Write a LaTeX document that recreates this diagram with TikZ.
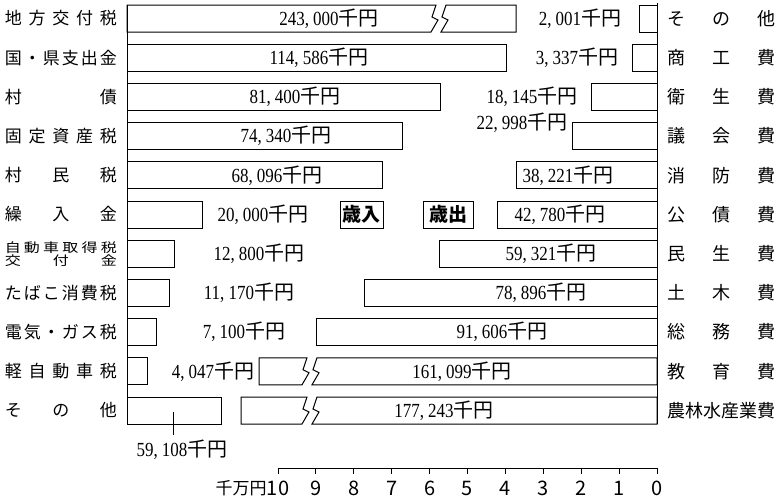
\documentclass[tikz,border=0pt]{standalone}
\usepackage{fontspec}
\setmainfont{Noto Sans CJK JP}
\newfontfamily\numfont{Liberation Serif}[FakeStretch=0.85]
\usetikzlibrary{positioning}
% amount in thousand yen
\newcommand\amt[1]{{\numfont #1}千円}
% characters spread over a fixed width
\newcommand\spread[2]{\makebox[#1][s]{#2}}
% bar cut by a break mark: left x, break x, right x, top y
\newcommand\brokenbar[4]{%
  \draw[bar] (#2+2,#4) -- (#1,#4) -- (#1,#4+27) -- (#2-3,#4+27)
    -- (#2+4,#4+15) -- (#2-2,#4+12) -- cycle;
  \draw[bar] (#2+12,#4) -- (#3,#4) -- (#3,#4+27) -- (#2+7,#4+27)
    -- (#2+14,#4+15) -- (#2+8,#4+12) -- cycle;
}
\tikzset {
  bar/.style = {
    draw = black,
    line width = 1pt
  },
  axis line/.style = {
    draw = black,
    line width = 1pt
  },
  % amount labels
  amount/.style = {
    inner sep = 0,
    font = \fontsize{20}{21}\selectfont
  },
  % item names, revenue side
  rev label/.style = {
    inner sep = 0,
    anchor = east,
    font = \fontsize{17}{18}\selectfont
  },
  % item names, expenditure side
  exp label/.style = {
    inner sep = 0,
    anchor = west,
    font = \fontsize{18}{19}\selectfont
  },
  title box/.style = {
    draw = black,
    line width = 1pt,
    inner sep = 2pt,
    minimum height = 27pt,
    font = \bfseries\fontsize{19}{20}\selectfont
  },
  tick label/.style = {
    inner sep = 0,
    font = \fontsize{20}{21}\selectfont
  }
}
\begin{document}
\begin{tikzpicture}[x = 1pt, y = -1pt]
  \useasboundingbox (0,0) rectangle (777,498);

  % base lines
  \draw[axis line] (127,5) -- (127,424);
  \draw[axis line] (657,3) -- (657,424);

  % revenue bars
  \brokenbar{127}{434}{516}{5}
  \draw[bar] (127,44.2) rectangle (506,71.2);
  \draw[bar] (127,83.4) rectangle (440,110.4);
  \draw[bar] (127,122.6) rectangle (402,149.6);
  \draw[bar] (127,161.8) rectangle (382,188.8);
  \draw[bar] (127,201) rectangle (202,228);
  \draw[bar] (127,240.2) rectangle (174,267.2);
  \draw[bar] (127,279.4) rectangle (169,306.4);
  \draw[bar] (127,318.6) rectangle (156,345.6);
  \draw[bar] (127,357.8) rectangle (147,384.8);
  \draw[bar] (127,397) rectangle (221,424);

  % expenditure bars
  \draw[bar] (639,5) rectangle (657,32);
  \draw[bar] (632,44.2) rectangle (657,71.2);
  \draw[bar] (591,83.4) rectangle (657,110.4);
  \draw[bar] (572,122.6) rectangle (657,149.6);
  \draw[bar] (516,161.8) rectangle (657,188.8);
  \draw[bar] (497,201) rectangle (657,228);
  \draw[bar] (439,240.2) rectangle (657,267.2);
  \draw[bar] (364,279.4) rectangle (657,306.4);
  \draw[bar] (316,318.6) rectangle (657,345.6);
  \brokenbar{259}{305}{657}{357.8}
  \brokenbar{241}{305}{657}{397}

  % revenue amounts
  \node[amount] at (329,18.5) (r1) {\amt{243, 000}};
  \node[amount] at (319,57.7) (r2) {\amt{114, 586}};
  \node[amount] at (295,96.9) (r3) {\amt{81, 400}};
  \node[amount] at (286,136.1) (r4) {\amt{74, 340}};
  \node[amount] at (277,175.3) (r5) {\amt{68, 096}};
  \node[amount] at (263,214.5) (r6) {\amt{20, 000}};
  \node[amount] at (259,253.7) (r7) {\amt{12, 800}};
  \node[amount] at (249,292.9) (r8) {\amt{11, 170}};
  \node[amount] at (244,332.1) (r9) {\amt{7, 100}};
  \node[amount] at (213,371.3) (r10) {\amt{4, 047}};
  \node[amount] at (182,450) (r11) {\amt{59, 108}};
  \coordinate (lead) at (173,412);
  \draw[bar, shorten >= 5pt] (lead) -- (lead |- r11.north);

  % expenditure amounts
  \node[amount] at (580,18.5) (e1) {\amt{2, 001}};
  \node[amount] at (577,57.7) (e2) {\amt{3, 337}};
  \node[amount] at (532,96.9) (e3) {\amt{18, 145}};
  \node[amount] at (522,123) (e4) {\amt{22, 998}};
  \node[amount] at (568,175.3) (e5) {\amt{38, 221}};
  \node[amount] at (560,214.5) (e6) {\amt{42, 780}};
  \node[amount] at (551,253.7) (e7) {\amt{59, 321}};
  \node[amount] at (541,292.9) (e8) {\amt{78, 896}};
  \node[amount] at (502,332.1) (e9) {\amt{91, 606}};
  \node[amount] at (462,371.3) (e10) {\amt{161, 099}};
  \node[amount] at (444,410.5) (e11) {\amt{177, 243}};

  \node[title box, minimum width = 43pt] at (361.5,214.5) (rev) {歳入};
  \node[title box, minimum width = 50pt] at (448,214.5) (exp) {歳出};

  % revenue items
  \node[rev label] at (117,18.5) (n1) {\spread{112pt}{地\hfill 方\hfill 交\hfill 付\hfill 税}};
  \node[rev label] at (117,57.7) (n2) {\spread{112pt}{国\hfill ・\hfill 県\hfill 支\hfill 出\hfill 金}};
  \node[rev label] at (117,96.9) (n3) {\spread{112pt}{村\hfill 債}};
  \node[rev label] at (117,136.1) (n4) {\spread{112pt}{固\hfill 定\hfill 資\hfill 産\hfill 税}};
  \node[rev label] at (117,175.3) (n5) {\spread{112pt}{村\hfill 民\hfill 税}};
  \node[rev label] at (117,214.5) (n6) {\spread{112pt}{繰\hfill 入\hfill 金}};
  \node[rev label, font = \fontsize{16}{16}\selectfont] at (117,247.5) (n7a)
    {\scalebox{1}[0.8]{\spread{112pt}{自\hfill 動\hfill 車\hfill 取\hfill 得\hfill 税}}};
  \node[rev label, font = \fontsize{16}{16}\selectfont] at (117,261) (n7b)
    {\scalebox{1}[0.8]{\spread{112pt}{交\hfill 付\hfill 金}}};
  \node[rev label] at (117,292.9) (n8) {\spread{112pt}{た\hfill ば\hfill こ\hfill 消\hfill 費\hfill 税}};
  \node[rev label] at (117,332.1) (n9) {\spread{112pt}{電\hfill 気\hfill ・\hfill ガ\hfill ス\hfill 税}};
  \node[rev label] at (117,371.3) (n10) {\spread{112pt}{軽\hfill 自\hfill 動\hfill 車\hfill 税}};
  \node[rev label] at (117,410.5) (n11) {\spread{112pt}{そ\hfill の\hfill 他}};

  % expenditure items
  \node[exp label] at (667,18.5) (m1) {\spread{108pt}{そ\hfill の\hfill 他}};
  \node[exp label] at (667,57.7) (m2) {\spread{108pt}{商\hfill 工\hfill 費}};
  \node[exp label] at (667,96.9) (m3) {\spread{108pt}{衛\hfill 生\hfill 費}};
  \node[exp label] at (667,136.1) (m4) {\spread{108pt}{議\hfill 会\hfill 費}};
  \node[exp label] at (667,175.3) (m5) {\spread{108pt}{消\hfill 防\hfill 費}};
  \node[exp label] at (667,214.5) (m6) {\spread{108pt}{公\hfill 債\hfill 費}};
  \node[exp label] at (667,253.7) (m7) {\spread{108pt}{民\hfill 生\hfill 費}};
  \node[exp label] at (667,292.9) (m8) {\spread{108pt}{土\hfill 木\hfill 費}};
  \node[exp label] at (667,332.1) (m9) {\spread{108pt}{総\hfill 務\hfill 費}};
  \node[exp label] at (667,371.3) (m10) {\spread{108pt}{教\hfill 育\hfill 費}};
  \node[exp label] at (667,410.5) (m11) {農林水産業費};

  % scale
  \draw[axis line] (278,468) -- (657,468);
  \foreach \k in {0,...,10} {
    \draw[axis line] (657-37.9*\k,468) -- (657-37.9*\k,474);
    \node[tick label] at (657-37.9*\k,488) (t\k) {\k};
  }
  \node[tick label, font = \fontsize{17}{18}\selectfont, left = 0pt of t10] (unit) {千万円};
\end{tikzpicture}
\end{document}
